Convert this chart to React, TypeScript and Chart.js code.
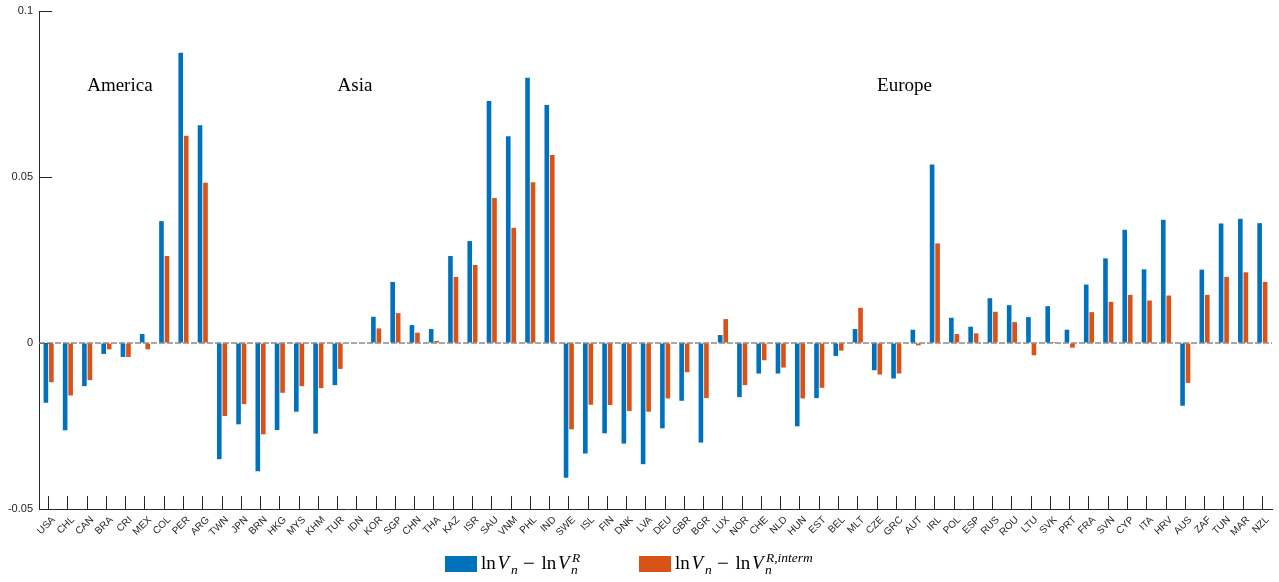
import React, { useEffect, useRef } from "react";
import { Chart, registerables } from "chart.js";

Chart.register(...registerables);

const countries = [
  "USA", "CHL", "CAN", "BRA", "CRI", "MEX", "COL", "PER", "ARG", "TWN", "JPN",
  "BRN", "HKG", "MYS", "KHM", "TUR", "IDN", "KOR", "SGP", "CHN", "THA", "KAZ",
  "ISR", "SAU", "VNM", "PHL", "IND", "SWE", "ISL", "FIN", "DNK", "LVA", "DEU",
  "GBR", "BGR", "LUX", "NOR", "CHE", "NLD", "HUN", "EST", "BEL", "MLT", "CZE",
  "GRC", "AUT", "IRL", "POL", "ESP", "RUS", "ROU", "LTU", "SVK", "PRT", "FRA",
  "SVN", "CYP", "ITA", "HRV", "AUS", "ZAF", "TUN", "MAR", "NZL",
];

const diffR = [
  -0.018, -0.0263, -0.013, -0.0033, -0.0042, 0.0027, 0.0367, 0.0874, 0.0656, -0.035, -0.0245,
  -0.0386, -0.0262, -0.0207, -0.0273, -0.0127, 0, 0.0079, 0.0184, 0.0054, 0.0042, 0.0262,
  0.0307, 0.0729, 0.0623, 0.0799, 0.0717, -0.0406, -0.0333, -0.0272, -0.0303, -0.0365, -0.0257,
  -0.0174, -0.03, 0.0024, -0.0163, -0.0092, -0.0092, -0.0251, -0.0166, -0.0039, 0.0042, -0.0082,
  -0.0107, 0.004, 0.0538, 0.0076, 0.0049, 0.0135, 0.0114, 0.0078, 0.0111, 0.004, 0.0176,
  0.0255, 0.0341, 0.0222, 0.0371, -0.0189, 0.0221, 0.036, 0.0374, 0.0361,
];

const diffInterm = [
  -0.0118, -0.0158, -0.0112, -0.0019, -0.0042, -0.0019, 0.0262, 0.0624, 0.0483, -0.022, -0.0184,
  -0.0275, -0.015, -0.013, -0.0136, -0.0078, 0, 0.0044, 0.009, 0.0031, 0.0006, 0.0199,
  0.0235, 0.0437, 0.0347, 0.0484, 0.0566, -0.026, -0.0186, -0.0187, -0.0205, -0.0207, -0.0167,
  -0.0088, -0.0166, 0.0072, -0.0127, -0.0052, -0.0074, -0.0167, -0.0135, -0.0023, 0.0106, -0.0095,
  -0.0092, -0.0007, 0.03, 0.0027, 0.0029, 0.0094, 0.0063, -0.0037, 0.0003, -0.0014, 0.0093,
  0.0124, 0.0145, 0.0128, 0.0143, -0.012, 0.0145, 0.0199, 0.0213, 0.0184,
];

const seriesNames = ["ln V_n \u2212 ln V_n^R", "ln V_n \u2212 ln V_n^{R,interm}"];
const seriesColors = ["#0072BD", "#D95319"];
const legendSuperscripts = ["R", "R,interm"];

const yTickValues = [0.1, 0.05, 0, -0.05];
const yTickLabels = ["0.1", "0.05", "0", "-0.05"];

const regionNames = ["America", "Asia", "Europe"];
const regionAnchors = ["CAN", "TUR", "CZE"];
const regionLabelY = 0.076;

const AXIS_COLOR = "#262626";

const overlayPlugin = {
  id: "overlay",
  beforeDatasetsDraw(chart: any) {
    const { ctx, chartArea, scales } = chart;
    const y0 = scales.y.getPixelForValue(0);
    ctx.save();
    ctx.strokeStyle = "#8a8a8a";
    ctx.lineWidth = 1.5;
    ctx.setLineDash([6, 2]);
    ctx.beginPath();
    ctx.moveTo(chartArea.left, y0);
    ctx.lineTo(chartArea.right, y0);
    ctx.stroke();
    ctx.restore();
  },
  afterDraw(chart: any) {
    const { ctx, scales } = chart;
    ctx.save();
    // region annotations
    ctx.fillStyle = "#000";
    ctx.font = "19px 'Liberation Serif'";
    ctx.textAlign = "left";
    ctx.textBaseline = "alphabetic";
    regionNames.forEach((name, i) => {
      const idx = countries.indexOf(regionAnchors[i]);
      const x = scales.x.getPixelForValue(idx);
      const y = scales.y.getPixelForValue(regionLabelY);
      ctx.fillText(name, x, y);
    });

    // legend
    const boxW = 32;
    const boxH = 16;
    const itemStep = 194;
    const firstLeft = chart.width / 2 - 194.5;
    const boxTop = chart.height - 26;
    const base = boxTop + 13;
    const roman = "19px 'Liberation Serif'";
    const italic = "italic 19px 'Liberation Serif'";
    const small = "italic 13.5px 'Liberation Serif'";
    seriesNames.forEach((_, i) => {
      const left = firstLeft + i * itemStep;
      ctx.fillStyle = seriesColors[i];
      ctx.fillRect(left, boxTop, boxW, boxH);
      ctx.fillStyle = "#000";
      ctx.font = roman;
      ctx.fillText("ln", left + 36, base);
      ctx.font = italic;
      ctx.fillText("V", left + 52.5, base);
      ctx.font = small;
      ctx.fillText("n", left + 66, base + 5);
      ctx.font = "21px 'Liberation Serif'";
      ctx.fillText("\u2212", left + 78, base + 0.5);
      ctx.font = roman;
      ctx.fillText("ln", left + 96.5, base);
      ctx.font = italic;
      ctx.fillText("V", left + 113, base);
      ctx.font = small;
      ctx.fillText("n", left + 126, base + 5);
      ctx.fillText(legendSuperscripts[i], left + 127, base - 7);
    });
    ctx.restore();
  },
};

export default function App() {
  const canvasRef = useRef<HTMLCanvasElement | null>(null);

  useEffect(() => {
    document.body.style.margin = "0";
    document.body.style.overflow = "hidden";
    const canvas = canvasRef.current;
    if (!canvas) return;
    const chart = new Chart(canvas, {
      type: "bar",
      data: {
        labels: countries,
        datasets: [
          {
            label: seriesNames[0],
            data: diffR,
            backgroundColor: seriesColors[0],
            borderWidth: 0,
            categoryPercentage: 0.571,
            barPercentage: 0.84,
          },
          {
            label: seriesNames[1],
            data: diffInterm,
            backgroundColor: seriesColors[1],
            borderWidth: 0,
            categoryPercentage: 0.571,
            barPercentage: 0.84,
          },
        ],
      },
      options: {
        responsive: false,
        animation: false,
        layout: { padding: { left: 0, right: 7, top: 11, bottom: 0 } },
        plugins: {
          legend: { display: false },
          tooltip: { enabled: false },
        },
        scales: {
          x: {
            type: "category",
            offset: true,
            grid: {
              display: true,
              drawOnChartArea: false,
              drawTicks: true,
              tickLength: -13,
              offset: false,
              color: AXIS_COLOR,
              lineWidth: 1,
            },
            border: { display: true, color: AXIS_COLOR, width: 1 },
            ticks: {
              autoSkip: false,
              minRotation: 45,
              maxRotation: 45,
              padding: 18,
              labelOffset: 5,
              color: AXIS_COLOR,
              font: { family: "'Liberation Sans'", size: 10 },
            },
            afterFit: (s: any) => {
              s.height = 73;
              s.paddingLeft = 0;
              s.paddingRight = 0;
            },
          },
          y: {
            min: -0.05,
            max: 0.1,
            afterBuildTicks: (s: any) => {
              s.ticks = yTickValues.map((v) => ({ value: v }));
            },
            grid: {
              display: true,
              drawOnChartArea: false,
              drawTicks: true,
              tickLength: -13,
              color: AXIS_COLOR,
              lineWidth: 1,
            },
            border: { display: true, color: AXIS_COLOR, width: 1 },
            ticks: {
              padding: 19,
              color: AXIS_COLOR,
              font: { family: "'Liberation Sans'", size: 11 },
              callback: (v: any) => {
                const i = yTickValues.findIndex((t) => Math.abs(t - Number(v)) < 1e-9);
                return i >= 0 ? yTickLabels[i] : "";
              },
            },
            afterFit: (s: any) => {
              s.width = 39;
              s.paddingTop = 0;
              s.paddingBottom = 0;
            },
          },
        },
      },
      plugins: [overlayPlugin],
    });
    return () => chart.destroy();
  }, []);

  return (
    <div style={{ position: "absolute", left: 0, top: 0, width: 1279, height: 582 }}>
      <canvas ref={canvasRef} width={1279} height={582} style={{ display: "block" }} />
    </div>
  );
}
